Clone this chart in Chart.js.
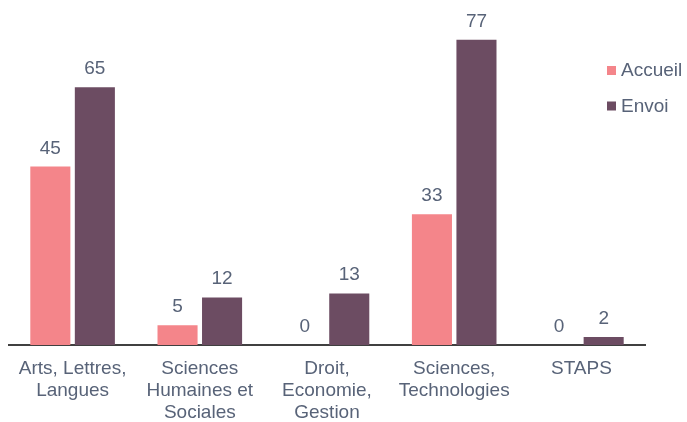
<!DOCTYPE html>
<html>
<head>
<meta charset="utf-8">
<script src="https://cdn.jsdelivr.net/npm/chart.js@4"></script>
<style>
  html, body { margin: 0; padding: 0; background: #fff; }
  #wrap { width: 687px; height: 422px; }
</style>
</head>
<body>
<div id="wrap"><canvas id="chart"></canvas></div>
<script>
const categories = [
  ["Arts, Lettres,", "Langues"],
  ["Sciences", "Humaines et", "Sociales"],
  ["Droit,", "Economie,", "Gestion"],
  ["Sciences,", "Technologies"],
  ["STAPS"]
];
const accueil = [45, 5, 0, 33, 0];
const envoi = [65, 12, 13, 77, 2];

const textColor = "#586378";
const fontFamily = "'Liberation Sans', Arial, sans-serif";

// value labels above each bar
const valueLabels = {
  id: "valueLabels",
  afterDatasetsDraw(chart) {
    const ctx = chart.ctx;
    ctx.save();
    ctx.font = "19px " + fontFamily;
    ctx.fillStyle = textColor;
    ctx.textAlign = "center";
    ctx.textBaseline = "alphabetic";
    chart.data.datasets.forEach((ds, i) => {
      chart.getDatasetMeta(i).data.forEach((bar, j) => {
        ctx.fillText(String(ds.data[j]), bar.x, bar.y - 13);
      });
    });
    ctx.restore();
  }
};

// legend drawn inside the plot, top right
const sideLegend = {
  id: "sideLegend",
  afterDraw(chart) {
    const ctx = chart.ctx;
    const x = chart.chartArea.right - 38;
    let y = 70;
    ctx.save();
    ctx.font = "19px " + fontFamily;
    ctx.textBaseline = "middle";
    chart.data.datasets.forEach(ds => {
      ctx.fillStyle = ds.backgroundColor;
      ctx.fillRect(x, y - 4, 9, 9);
      ctx.fillStyle = textColor;
      ctx.fillText(ds.label, x + 14, y + 1);
      y += 35.5;
    });
    ctx.restore();
  }
};

new Chart(document.getElementById("chart").getContext("2d"), {
  type: "bar",
  data: {
    labels: categories,
    datasets: [
      { label: "Accueil", data: accueil, backgroundColor: "#F4858A" },
      { label: "Envoi", data: envoi, backgroundColor: "#6C4C62" }
    ]
  },
  options: {
    responsive: true,
    maintainAspectRatio: false,
    animation: false,
    categoryPercentage: 0.7,
    barPercentage: 0.9,
    layout: { padding: { left: 9, right: 42, top: 0, bottom: 0 } },
    plugins: {
      legend: { display: false },
      tooltip: { enabled: false }
    },
    scales: {
      x: {
        grid: { display: false, drawTicks: false },
        border: { display: true, color: "#404040", width: 2 },
        ticks: {
          color: textColor,
          font: { family: fontFamily, size: 19, lineHeight: "22px" },
          padding: 13,
          maxRotation: 0,
          autoSkip: false
        },
        afterFit(scale) { scale.height = 77; }
      },
      y: {
        display: false,
        min: 0,
        max: 87
      }
    }
  },
  plugins: [valueLabels, sideLegend]
});
</script>
</body>
</html>
